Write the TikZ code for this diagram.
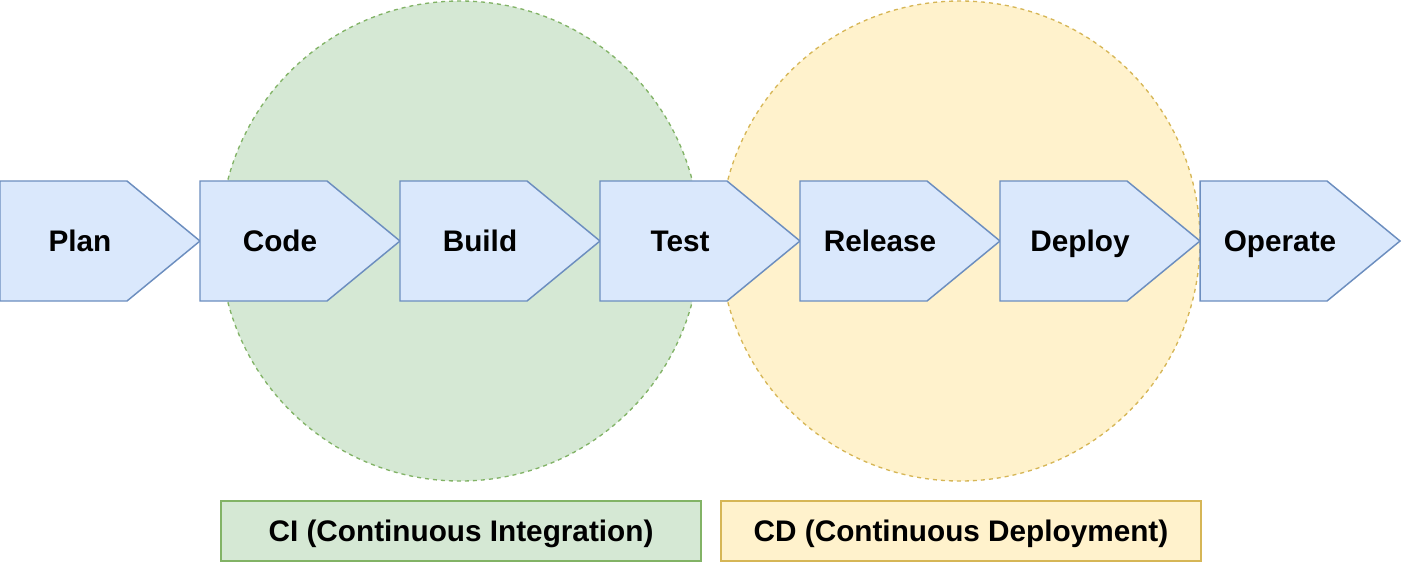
\documentclass[tikz,border=0pt]{standalone}
\usepackage{fontspec}
\setmainfont{Liberation Sans}
\usepackage{xcolor}
\definecolor{stagefill}{HTML}{DAE8FC}
\definecolor{stageline}{HTML}{6C8EBF}
\definecolor{cifill}{HTML}{D5E8D4}
\definecolor{ciline}{HTML}{82B366}
\definecolor{cdfill}{HTML}{FFF2CC}
\definecolor{cdline}{HTML}{D6B656}

\begin{document}
\begin{tikzpicture}[x=0.75pt,y=-0.75pt]

\tikzset{phase/.style = {shape=circle,minimum size=360pt,inner sep=0pt,line width=1pt,dash pattern=on 3pt off 3pt}}
\tikzset{phasebox/.style = {shape=rectangle,minimum width=360pt,minimum height=45pt,inner sep=0pt,line width=1.1pt,text height=16pt,text depth=0pt,font=\fontsize{22.3}{26}\selectfont\bfseries}}
\tikzset{stage/.style = {draw=stageline,fill=stagefill,line width=1.1pt,line join=miter}}
\tikzset{stagetext/.style = {inner sep=0pt,text height=16pt,text depth=0pt,font=\fontsize{22.3}{26}\selectfont\bfseries}}
\useasboundingbox (0,0) rectangle (1402,562);

%phases
\node[phase,draw=ciline,fill=cifill] (ci) at (460,241) {};
\node[phase,draw=cdline,fill=cdfill] (cd) at (960,241) {};
\node[phasebox,draw=ciline,fill=cifill] (cibox) at (461,531) {CI (Continuous Integration)};
\node[phasebox,draw=cdline,fill=cdfill] (cdbox) at (961,531) {CD (Continuous Deployment)};

%stages
\draw[stage] (0,181) -- (127,181) -- (200,241) -- (127,301) -- (0,301) -- cycle;
\draw[stage] (200,181) -- (327,181) -- (400,241) -- (327,301) -- (200,301) -- cycle;
\draw[stage] (400,181) -- (527,181) -- (600,241) -- (527,301) -- (400,301) -- cycle;
\draw[stage] (600,181) -- (727,181) -- (800,241) -- (727,301) -- (600,301) -- cycle;
\draw[stage] (800,181) -- (927,181) -- (1000,241) -- (927,301) -- (800,301) -- cycle;
\draw[stage] (1000,181) -- (1127,181) -- (1200,241) -- (1127,301) -- (1000,301) -- cycle;
\draw[stage] (1200,181) -- (1327,181) -- (1400,241) -- (1327,301) -- (1200,301) -- cycle;

\node[stagetext] (plan) at (80,241) {Plan};
\node[stagetext] (code) at (280,241) {Code};
\node[stagetext] (build) at (480,241) {Build};
\node[stagetext] (test) at (680,241) {Test};
\node[stagetext] (release) at (880,241) {Release};
\node[stagetext] (deploy) at (1080,241) {Deploy};
\node[stagetext] (operate) at (1280,241) {Operate};
\end{tikzpicture}
\end{document}
